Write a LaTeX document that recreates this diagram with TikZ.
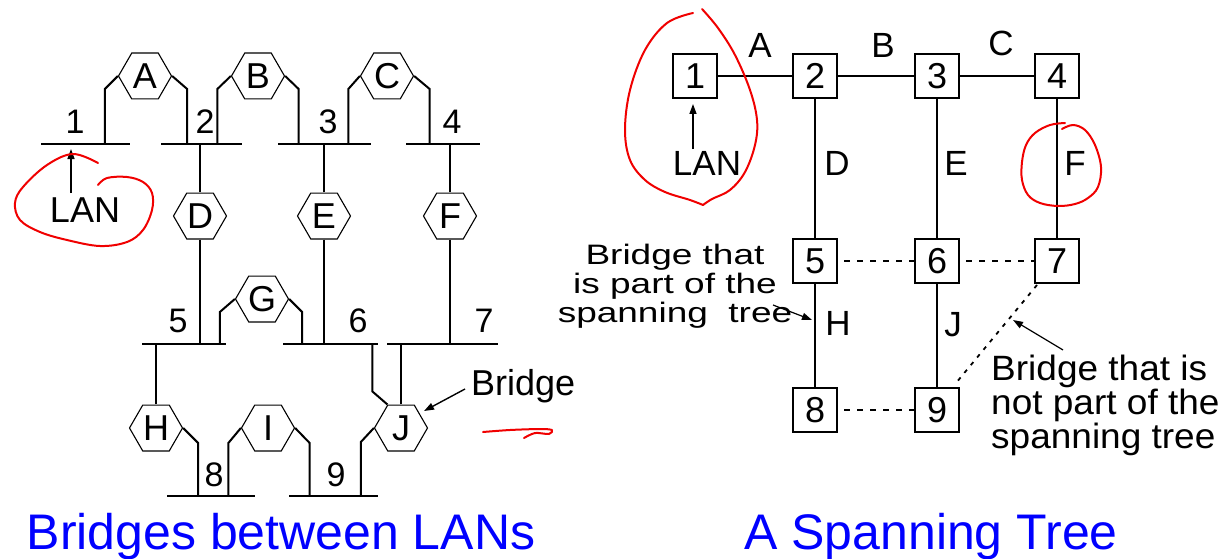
\documentclass[tikz,border=0pt]{standalone}
\usepackage{fontspec}
\setmainfont{Liberation Sans}
\usetikzlibrary{shapes.geometric,arrows.meta,calc}
\definecolor{ttlblue}{RGB}{0,0,255}
\definecolor{penred}{RGB}{240,0,0}
\begin{document}
\begin{tikzpicture}[x=1pt,y=-1pt,
  wire/.style={line width=2pt},
  hexbr/.style={regular polygon, regular polygon sides=6, draw, line width=1.1pt, minimum size=53pt, inner sep=0pt, font=\fontsize{36}{36}\selectfont},
  lanlbl/.style={inner sep=0pt, font=\fontsize{34}{34}\selectfont},
  boxnd/.style={draw, line width=2pt, minimum width=44pt, minimum height=44pt, inner sep=0pt, font=\fontsize{36}{36}\selectfont},
  edgelbl/.style={inner sep=0pt, font=\fontsize{35}{35}\selectfont},
  treeln/.style={line width=2pt},
  nontreeln/.style={line width=2.4pt, dash pattern=on 6pt off 7pt},
  nontreediag/.style={line width=1.8pt, dash pattern=on 4pt off 6pt},
  ptrarrow/.style={line width=1.4pt, -{Triangle[length=10pt,width=7pt]}},
  redpen/.style={draw=penred, line width=2pt, line cap=round, line join=round},
  ttlstyle/.style={text=ttlblue, inner sep=0pt, font=\fontsize{50}{50}\selectfont}
]
\useasboundingbox (0,0) rectangle (1225,559);

% ---------------- Left: Bridges between LANs ----------------
% LAN bars
\coordinate (L1a) at (41,144);  \coordinate (L1b) at (130,144);
\coordinate (L2a) at (161,144); \coordinate (L2b) at (242,144);
\coordinate (L3a) at (278,144); \coordinate (L3b) at (371,144);
\coordinate (L4a) at (406,144); \coordinate (L4b) at (480,144);
\coordinate (L5a) at (142,344); \coordinate (L5b) at (226,344);
\coordinate (L6a) at (283,344); \coordinate (L6b) at (378,344);
\coordinate (L7a) at (387,344); \coordinate (L7b) at (498,344);
\coordinate (L8a) at (167,496); \coordinate (L8b) at (255,496);
\coordinate (L9a) at (289,496); \coordinate (L9b) at (378,496);
\foreach \i in {1,...,9} {\draw[wire] (L\i a) -- (L\i b);}

% LAN numbers
\node[lanlbl] (t1) at (75,122) {1};
\node[lanlbl] (t2) at (205,122) {2};
\node[lanlbl] (t3) at (328,122) {3};
\node[lanlbl] (t4) at (452,122) {4};
\node[lanlbl] (t5) at (178,321) {5};
\node[lanlbl] (t6) at (358,321) {6};
\node[lanlbl] (t7) at (484,321) {7};
\node[lanlbl] (t8) at (214,475) {8};
\node[lanlbl] (t9) at (336,475) {9};

% bridges
\node[hexbr] (A) at (145,76) {A};
\node[hexbr] (B) at (258,76) {B};
\node[hexbr] (C) at (387,76) {C};
\node[hexbr] (D) at (200,216) {D};
\node[hexbr] (E) at (324,216) {E};
\node[hexbr] (F) at (450,216) {F};
\node[hexbr] (G) at (262,299) {G};
\node[hexbr] (H) at (156,428) {H};
\node[hexbr] (I) at (268,428) {I};
\node[hexbr] (J) at (401,428) {J};

% bridge legs
\draw[wire] (A.west) -- ++(-13,13) coordinate (Aw) -- (Aw |- L1a);
\draw[wire] (A.east) -- ++(15,13) coordinate (Ae) -- (Ae |- L2a);
\draw[wire] (B.west) -- ++(-13.5,13) coordinate (Bw) -- (Bw |- L2a);
\draw[wire] (B.east) -- ++(13.5,13) coordinate (Be) -- (Be |- L3a);
\draw[wire] (C.west) -- ++(-11.5,13) coordinate (Cw) -- (Cw |- L3a);
\draw[wire] (C.east) -- ++(15.5,13) coordinate (Ce) -- (Ce |- L4a);
\draw[wire] (D.north) -- (D.north |- L2a);
\draw[wire] (D.south) -- (D.south |- L5a);
\draw[wire] (E.north) -- (E.north |- L3a);
\draw[wire] (E.south) -- (E.south |- L6a);
\draw[wire] (F.north) -- (F.north |- L4a);
\draw[wire] (F.south) -- (F.south |- L7a);
\draw[wire] (G.west) -- ++(-15,13) coordinate (Gw) -- (Gw |- L5a);
\draw[wire] (G.east) -- ++(13,13) coordinate (Ge) -- (Ge |- L6a);
\draw[wire] (H.north) -- (H.north |- L5a);
\draw[wire] (H.east) -- ++(15,15) coordinate (He) -- (He |- L8a);
\draw[wire] (I.west) -- ++(-12.5,15) coordinate (Iw) -- (Iw |- L8a);
\draw[wire] (I.east) -- ++(14.5,15) coordinate (Ie) -- (Ie |- L9a);
\draw[wire] (J.north) -- (J.north |- L7a);
\draw[wire] (J.120) -- ++(-15,-13) coordinate (Jn) -- (Jn |- L6a);
\draw[wire] (J.west) -- ++(-13,14) coordinate (Jw) -- (Jw |- L9a);

% LAN pointer
\node[inner sep=0pt, font=\fontsize{36}{36}\selectfont] (lanL) at (85,210) {LAN};
\coordinate (lanLtail) at (71,193);
\draw[ptrarrow, shorten >=5pt] (lanLtail) -- (lanLtail |- L1a);

% Bridge pointer
\node[inner sep=0pt, anchor=base west, font=\fontsize{36}{36}\selectfont] (brLbl) at (471,395) {Bridge};
\coordinate (brTail) at (465,389);
\coordinate (brTip) at (424,411);
\draw[ptrarrow] (brTail) -- (brTip);

% title
\node[ttlstyle, anchor=base] (ttlL) at (281,549) {Bridges between LANs};

% ---------------- Right: A Spanning Tree ----------------
\node[boxnd] (n1) at (695,76) {1};
\node[boxnd] (n2) at (815,76) {2};
\node[boxnd] (n3) at (937,76) {3};
\node[boxnd] (n4) at (1057,76) {4};
\node[boxnd] (n5) at (815,261) {5};
\node[boxnd] (n6) at (937,261) {6};
\node[boxnd] (n7) at (1057,261) {7};
\node[boxnd] (n8) at (815,410) {8};
\node[boxnd] (n9) at (937,410) {9};

\draw[treeln] (n1) -- (n2);
\draw[treeln] (n2) -- (n3);
\draw[treeln] (n3) -- (n4);
\draw[treeln] (n2) -- (n5);
\draw[treeln] (n3) -- (n6);
\draw[treeln] (n4) -- (n7);
\draw[treeln] (n5) -- (n8);
\draw[treeln] (n6) -- (n9);
\draw[nontreeln, shorten <=6pt] (n5) -- (n6);
\draw[nontreeln, shorten <=6pt] (n6) -- (n7);
\draw[nontreeln, shorten <=6pt] (n8) -- (n9);
\draw[nontreediag] ($(n7.south west)+(3,1)$) -- ($(n9.north east)+(-4,-4)$);

\node[edgelbl] (eA) at (760,45) {A};
\node[edgelbl] (eB) at (883,45) {B};
\node[edgelbl] (eC) at (1001,43) {C};
\node[edgelbl] (eD) at (837,163) {D};
\node[edgelbl] (eE) at (956,163) {E};
\node[edgelbl] (eF) at (1075,163) {F};
\node[edgelbl] (eH) at (838,323) {H};
\node[edgelbl] (eJ) at (953,325) {J};

\node[edgelbl] (lanR) at (707,163) {LAN};
\coordinate (lanRtail) at (693,149);
\draw[ptrarrow, shorten >=5pt] (lanRtail) -- (lanRtail |- n1.south);

% notes
\node[inner sep=0pt, font=\fontsize{37}{37}\selectfont] (noteIn) at (675,287.5)
  {\scalebox{1}[0.76]{\begin{tabular}{@{}c@{}}Bridge that\\ is part of the\\ spanning\ \ tree\end{tabular}}};
\coordinate (noteInTail) at (773,305);
\coordinate (noteInTip) at (812,320);
\draw[ptrarrow, line width=1.2pt] (noteInTail) -- (noteInTip);

\node[inner sep=0pt, anchor=west, font=\fontsize{37}{30.5}\selectfont] (noteOut) at (991,406)
  {\scalebox{1}[0.95]{\begin{tabular}{@{}l@{}}Bridge that is\\ not part of the\\ spanning tree\end{tabular}}};
\coordinate (noteOutTail) at (1063,350);
\coordinate (noteOutTip) at (1013,320);
\draw[ptrarrow, line width=1.2pt] (noteOutTail) -- (noteOutTip);

\node[ttlstyle, anchor=base] (ttlR) at (931,549) {A Spanning Tree};

% ---------------- red hand annotations ----------------
\draw[redpen] plot[smooth, tension=0.6] coordinates {(98,163) (73,154) (47,165) (23,187) (15,203) (20,220) (40,232) (67,240) (100,246) (127,242) (143,230) (152,210) (152,193) (143,182) (127,177) (107,178) (98,185)};
\draw[redpen] plot[smooth, tension=0.6] coordinates {(693,13) (667,23) (645,50) (630,90) (625,130) (630,160) (645,180) (665,192) (690,200) (703,205)};
\draw[redpen] plot[smooth, tension=0.6] coordinates {(703,205) (712,199) (730,190) (745,172) (755,145) (757,120) (750,90) (735,55) (718,28) (702,9)};
\draw[redpen] plot[smooth, tension=0.6] coordinates {(1062,129) (1073,125) (1085,130) (1095,145) (1101,167) (1098,187) (1088,198) (1075,204) (1058,206) (1040,203) (1028,195) (1022,180) (1022,162) (1026,145) (1035,133) (1050,125) (1065,123)};
\draw[redpen] plot[smooth, tension=0.5] coordinates {(483,432) (510,430) (540,429) (552,430) (549,434) (535,433) (524,438)};
\end{tikzpicture}
\end{document}
